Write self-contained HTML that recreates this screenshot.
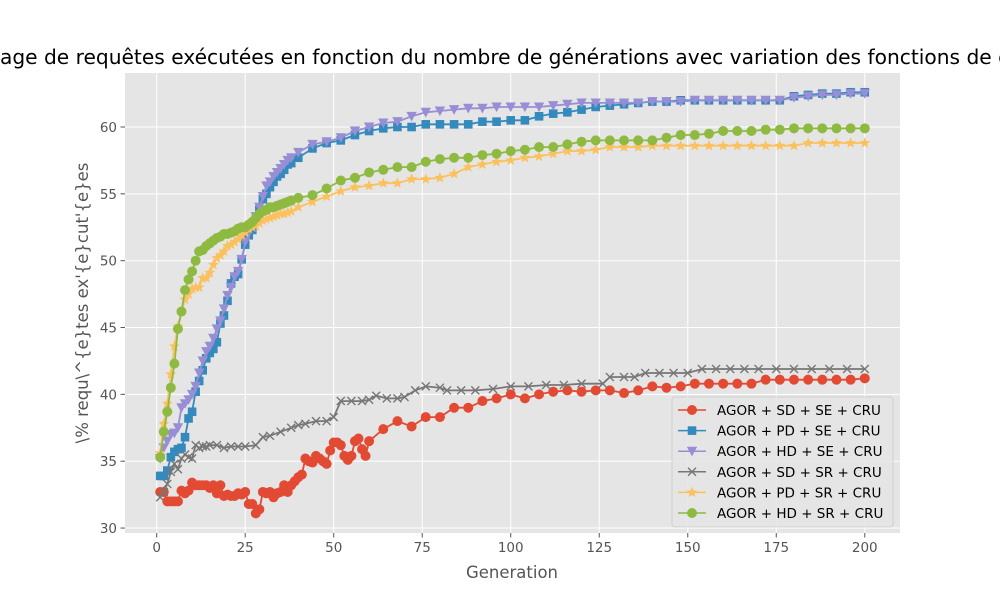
<!DOCTYPE html>
<html><head><meta charset="utf-8"><style>
body{margin:0;background:#fff;}
svg{display:block;font-family:"DejaVu Sans","Liberation Sans",sans-serif;}
</style></head><body>
<svg id="chart" width="1000" height="600" viewBox="0 0 1000 600">
<rect x="0" y="0" width="1000" height="600" fill="#fff"/>
<rect x="125" y="73" width="775" height="460" fill="#E5E5E5"/>
<g id="grid"></g>
<g id="ticks"></g>
<g id="series"></g>
<text x="511" y="64" font-size="20.2" text-anchor="middle" fill="#000">Pourcentage de requêtes exécutées en fonction du nombre de générations avec variation des fonctions de croisement</text>
<text x="512" y="578" font-size="16.5" text-anchor="middle" fill="#555">Generation</text>
<text transform="translate(88,303) rotate(-90)" font-size="16.5" text-anchor="middle" fill="#555">\% requ\^{e}tes ex'{e}cut'{e}es</text>
<g id="legend"></g>
</svg>
<script>
const xTicks=[0,25,50,75,100,125,150,175,200];
const yTicks=[30,35,40,45,50,55,60];
const seriesNames=["AGOR + SD + SE + CRU","AGOR + PD + SE + CRU","AGOR + HD + SE + CRU","AGOR + SD + SR + CRU","AGOR + PD + SR + CRU","AGOR + HD + SR + CRU"];
const g1=[1,2,3,4,5,6,7,8,9,10,11,12,13,14,15,16,17,18,19,20,21,22,23,24,25,26,27,28,29,30,31,32,33,34,35,36,37,38,39,40,41,42,43,44,45,46,47,48,49,50,51,52,53,54,55,56,57,58,59,60,64,68,72,76,80,84,88,92,96,100,104,108,112,116,120,124,128,132,136,140,144,148,152,156,160,164,168,172,176,180,184,188,192,196,200];
const redY=[32.7,32.7,32.0,32.0,32.0,32.0,32.8,32.6,32.8,33.4,33.2,33.2,33.2,33.2,33.0,33.2,32.6,33.2,32.4,32.5,32.4,32.4,32.6,32.5,32.7,31.8,31.8,31.1,31.4,32.7,32.6,32.7,32.3,32.6,32.7,33.2,32.7,33.2,33.5,33.8,34.0,35.2,35.0,34.9,35.4,35.2,35.0,34.8,35.8,36.4,36.4,36.2,35.4,35.1,35.4,36.5,36.7,35.9,35.4,36.5,37.4,38.0,37.6,38.3,38.3,39.0,39.0,39.5,39.7,40.0,39.7,40.0,40.2,40.3,40.2,40.3,40.3,40.1,40.3,40.6,40.5,40.6,40.8,40.8,40.8,40.8,40.8,41.1,41.1,41.1,41.1,41.1,41.1,41.1,41.2];
const g2=[1,2,3,4,5,6,7,8,9,10,11,12,13,14,15,16,17,18,19,20,21,22,23,24,25,26,27,28,29,30,31,32,33,34,35,36,37,38,40,44,48,52,56,60,64,68,72,76,80,84,88,92,96,100,104,108,112,116,120,124,128,132,136,140,144,148,152,156,160,164,168,172,176,180,184,188,192,196,200];
const blueY=[33.9,33.9,34.3,35.3,35.7,35.9,36.0,36.8,38.2,38.7,40.2,41.0,41.8,42.7,43.1,43.4,43.9,45.3,45.9,47.0,48.3,48.8,49.0,50.1,51.2,51.9,52.3,53.0,53.8,54.6,55.0,55.5,55.9,56.3,56.5,56.8,57.2,57.3,57.7,58.4,58.8,59.0,59.4,59.7,59.9,60.0,60.0,60.2,60.2,60.2,60.2,60.4,60.4,60.5,60.5,60.8,61.0,61.1,61.3,61.5,61.6,61.7,61.8,61.9,61.9,62.0,62.0,62.0,62.0,62.0,62.0,62.0,62.0,62.3,62.4,62.5,62.5,62.6,62.6];
const purpleY=[35.2,36.0,36.5,37.0,37.1,37.5,39.0,39.3,39.6,40.0,40.6,41.6,42.5,43.2,43.6,44.2,44.9,45.5,46.4,47.4,48.0,48.8,49.2,50.1,51.4,52.1,52.6,53.3,54.0,54.8,55.6,55.9,56.3,56.6,56.9,57.2,57.5,57.7,58.1,58.7,58.9,59.2,59.7,60.0,60.3,60.4,60.8,61.1,61.2,61.3,61.4,61.4,61.5,61.5,61.5,61.5,61.6,61.7,61.8,61.8,61.8,61.8,61.8,61.9,61.9,61.9,62.0,62.0,62.0,62.0,62.0,62.0,62.0,62.2,62.3,62.4,62.4,62.5,62.5];
const yellowY=[35.6,37.8,39.3,41.5,43.6,45.1,46.2,47.1,47.5,47.9,48.0,48.0,48.7,48.7,49.1,49.7,50.2,50.4,50.7,51.1,51.2,51.4,51.6,51.9,52.1,52.4,52.5,52.6,52.8,53.0,53.1,53.2,53.3,53.4,53.5,53.5,53.6,53.7,54.0,54.4,54.8,55.2,55.5,55.6,55.8,55.8,56.1,56.1,56.2,56.5,57.0,57.2,57.4,57.5,57.7,57.8,58.0,58.2,58.2,58.3,58.5,58.5,58.5,58.6,58.6,58.6,58.6,58.6,58.6,58.6,58.6,58.6,58.6,58.6,58.8,58.8,58.8,58.8,58.8];
const greenY=[35.3,37.2,38.7,40.5,42.3,44.9,46.2,47.8,48.6,49.2,50.0,50.7,50.8,51.1,51.3,51.5,51.7,51.8,52.0,52.0,52.1,52.2,52.4,52.5,52.5,52.7,52.9,53.2,53.5,53.7,53.8,54.0,54.0,54.1,54.2,54.3,54.4,54.5,54.7,54.9,55.4,56.0,56.2,56.6,56.8,57.0,57.0,57.4,57.6,57.7,57.7,57.9,58.0,58.2,58.3,58.5,58.5,58.7,58.9,59.0,59.0,59.0,59.0,59.0,59.2,59.4,59.4,59.5,59.7,59.7,59.7,59.8,59.8,59.9,59.9,59.9,59.9,59.9,59.9];
const g4=[1,2,3,4,5,6,7,8,9,10,11,12,13,14,15,17,19,21,23,25,28,30,32,35,38,40,42,45,48,50,52,55,58,60,62,65,68,70,73,76,80,82,86,90,95,100,105,110,115,120,126,128,132,135,138,142,146,150,154,158,162,166,170,175,180,185,190,195,200];
const grayY=[32.3,32.7,33.3,34.2,34.8,34.4,35.2,35.5,35.3,35.2,36.2,36.0,36.1,36.1,36.2,36.2,36.0,36.1,36.1,36.1,36.2,36.8,36.9,37.2,37.5,37.7,37.8,38.0,38.0,38.3,39.5,39.5,39.5,39.6,39.9,39.7,39.7,39.8,40.3,40.6,40.5,40.3,40.3,40.3,40.4,40.6,40.6,40.7,40.7,40.8,40.8,41.3,41.3,41.3,41.6,41.6,41.6,41.6,41.9,41.9,41.9,41.9,41.9,41.9,41.9,41.9,41.9,41.9,41.9];

const X0=125,X1=900,Y0=73,Y1=533,xmin=-8.95,xmax=209.95,ymin=29.63,ymax=64.04;
function sx(v){return X0+(v-xmin)/(xmax-xmin)*(X1-X0);}
function sy(v){return Y1-(v-ymin)/(ymax-ymin)*(Y1-Y0);}
const NS="http://www.w3.org/2000/svg";
function mk(tag,attrs,parent){const e=document.createElementNS(NS,tag);for(const k in attrs)e.setAttribute(k,attrs[k]);parent.appendChild(e);return e;}
const grid=document.getElementById('grid'),ticks=document.getElementById('ticks');
xTicks.forEach(t=>{
  const l=mk('line',{x1:sx(t),x2:sx(t),y1:Y0,y2:Y1,stroke:'#fff','stroke-width':1},grid);
  
  
  const tk=mk('line',{x1:sx(t),x2:sx(t),y1:Y1,y2:Y1+4.5,stroke:'#555','stroke-width':1},ticks);
  
  
  const tx=mk('text',{x:sx(t),y:Y1+19,'font-size':13.5,'text-anchor':'middle',fill:'#555'},ticks);
  tx.textContent=t;
  
  
});
yTicks.forEach(t=>{
  const l=mk('line',{x1:X0,x2:X1,y1:sy(t),y2:sy(t),stroke:'#fff','stroke-width':1},grid);
  
  
  const tk=mk('line',{x1:X0-4.5,x2:X0,y1:sy(t),y2:sy(t),stroke:'#555','stroke-width':1},ticks);
  
  
  const tx=mk('text',{x:X0-8,y:sy(t)+5,'font-size':13.5,'text-anchor':'end',fill:'#555'},ticks);
  tx.textContent=t;
  
  
});
const colors=['#E24A33','#348ABD','#988ED5','#777777','#FBC15E','#8EBA42'];
const markers=['o','s','v','x','*','o'];
const data=[[g1,redY],[g2,blueY],[g2,purpleY],[g4,grayY],[g2,yellowY],[g2,greenY]];
function marker(m,x,y,c,p){
  let e;
  if(m==='o')e=mk('circle',{cx:x,cy:y,r:5,fill:c},p);
  else if(m==='s')e=mk('rect',{x:x-4.3,y:y-4.3,width:8.6,height:8.6,fill:c},p);
  else if(m==='v')e=mk('path',{d:`M${x-5.2},${y-4.5} L${x+5.2},${y-4.5} L${x},${y+5.2}Z`,fill:c},p);
  else if(m==='x')e=mk('path',{d:`M${x-4},${y-4}L${x+4},${y+4}M${x-4},${y+4}L${x+4},${y-4}`,stroke:c,'stroke-width':1.4,fill:'none'},p);
  else {let d='';for(let i=0;i<10;i++){const r=i%2?2.5:5.8,a=-Math.PI/2+i*Math.PI/5;d+=(i?'L':'M')+(x+r*Math.cos(a)).toFixed(1)+','+(y+r*Math.sin(a)).toFixed(1);}e=mk('path',{d:d+'Z',fill:c},p);}
  return e;
}
const sg=document.getElementById('series');
data.forEach((d,i)=>{
  const g=mk('g',{},sg);
  
  
  const pts=d[0].map((x,j)=>sx(x).toFixed(1)+','+sy(d[1][j]).toFixed(1)).join(' ');
  const pl=mk('polyline',{points:pts,fill:'none',stroke:colors[i],'stroke-width':1.8},g);
  
  
  d[0].forEach((x,j)=>{
    const m=marker(markers[i],sx(x),sy(d[1][j]),colors[i],g);
    
    
  });
});
const lg=document.getElementById('legend');
const box=mk('rect',{x:672,y:397,width:221,height:130,rx:3,fill:'#E5E5E5',stroke:'#ccc','stroke-width':1,opacity:0.8},lg);


seriesNames.forEach((n,i)=>{
  const y=410+i*20.6;
  const g=mk('g',{},lg);
  
  
  mk('line',{x1:678,x2:706,y1:y,y2:y,stroke:colors[i],'stroke-width':1.5},g);
  marker(markers[i],692,y,colors[i],g);
  const t=mk('text',{x:717,y:y+5,'font-size':13.5,fill:'#000'},g);
  t.textContent=n;
});
</script>
</body></html>
